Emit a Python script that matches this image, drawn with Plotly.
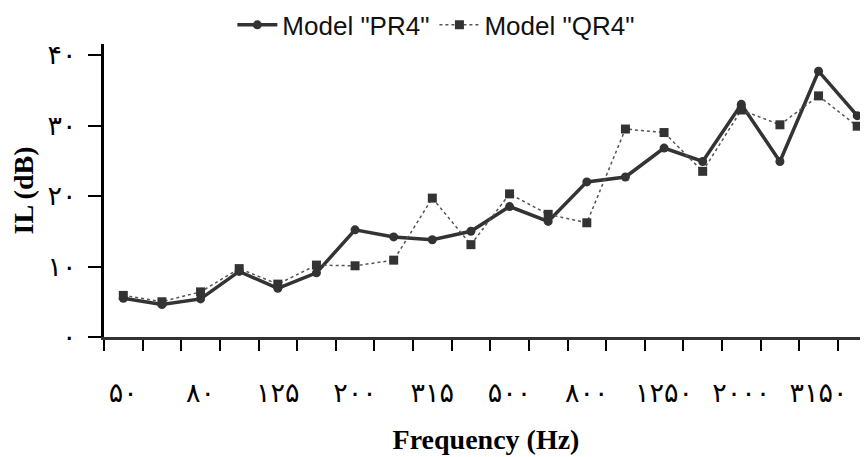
import plotly.graph_objects as go

# Persian digits helper
FA = str.maketrans("0123456789", "۰۱۲۳۴۵۶۷۸۹")

freq_bands = [50, 63, 80, 100, 125, 160, 200, 250, 315, 400,
              500, 630, 800, 1000, 1250, 1600, 2000, 2500, 3150, 4000]
pr4 = [5.5, 4.6, 5.4, 9.3, 6.9, 9.1, 15.2, 14.2, 13.8, 15.0,
       18.5, 16.4, 22.0, 22.7, 26.8, 24.9, 33.0, 24.9, 37.7, 31.4]
qr4 = [5.9, 5.0, 6.4, 9.7, 7.5, 10.2, 10.1, 10.9, 19.7, 13.1,
       20.3, 17.4, 16.2, 29.5, 29.0, 23.5, 32.2, 30.1, 34.2, 29.9]
y_ticks = [0, 10, 20, 30, 40]

xpos = list(range(len(freq_bands)))
label_pos = xpos[::2]
label_text = [str(f).translate(FA) for f in freq_bands[::2]]

fig = go.Figure()
fig.add_trace(go.Scatter(
    x=xpos, y=pr4, mode="lines+markers", name='Model "PR4"',
    line=dict(color="#333333", width=3.5),
    marker=dict(symbol="circle", size=9, color="#333333"),
))
fig.add_trace(go.Scatter(
    x=xpos, y=qr4, mode="lines+markers", name='Model "QR4"',
    line=dict(color="#555555", width=1.5, dash="dot"),
    marker=dict(symbol="square", size=9, color="#333333"),
))

# page body has an 8px margin: size the figure so it fits the 868x457 window
fig.update_layout(
    width=860, height=449,
    margin=dict(l=96, r=0, t=36, b=120, autoexpand=False),
    plot_bgcolor="white", paper_bgcolor="white",
    showlegend=True,
    legend=dict(orientation="h", x=0.168, xanchor="left", y=1.065, yanchor="middle",
                font=dict(family="Liberation Sans, Arial", size=26, color="#111111"),
                itemwidth=40, tracegroupgap=0, bgcolor="rgba(0,0,0,0)"),
    font=dict(family="Liberation Serif, Times New Roman, DejaVu Sans", color="black"),
)

fig.update_xaxes(
    range=[-0.5, 19.28], showgrid=False, zeroline=False, automargin=False,
    showline=True, linecolor="#333333", linewidth=2.5,
    tickmode="array", tickvals=label_pos, ticktext=label_text,
    ticks="", ticklabelstandoff=30,
    tickfont=dict(family="DejaVu Sans, Liberation Serif", size=27, color="black"),
    minor=dict(tickmode="linear", tick0=-0.5, dtick=1, ticks="outside",
               ticklen=11, tickwidth=2, tickcolor="black", showgrid=False),
    title=dict(text="<b>Frequency (Hz)</b>", standoff=23,
               font=dict(family="Liberation Serif, Times New Roman", size=28, color="black")),
)
fig.update_yaxes(
    range=[0, 41.56], showgrid=False, zeroline=False, automargin=False,
    showline=True, linecolor="black", linewidth=3,
    tickmode="array", tickvals=y_ticks,
    ticktext=[str(v).translate(FA) for v in y_ticks],
    ticks="outside", ticklen=13, tickwidth=2, tickcolor="black",
    ticklabelstandoff=6,
    tickfont=dict(family="DejaVu Sans, Liberation Serif", size=27, color="black"),
    title=dict(text="<b>IL (dB)</b>", standoff=14,
               font=dict(family="Liberation Serif, Times New Roman", size=28, color="black")),
)

fig.write_html("out.html")
